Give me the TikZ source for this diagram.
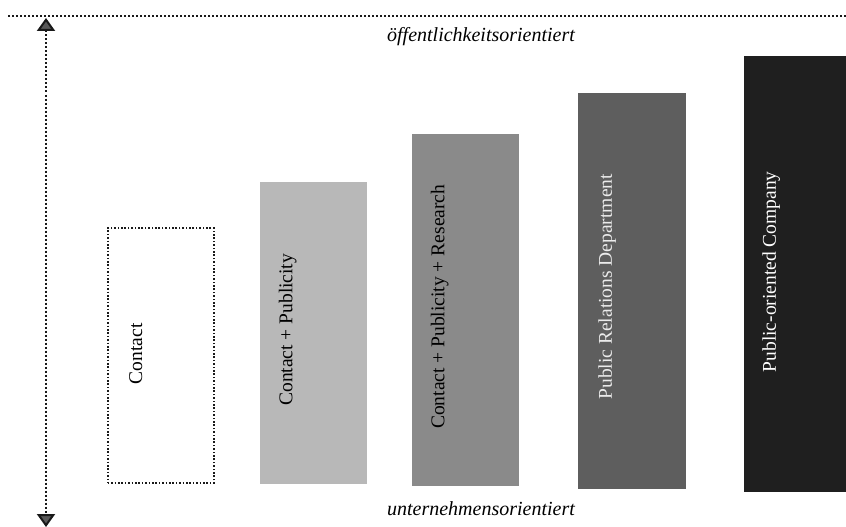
\documentclass[tikz,border=0pt]{standalone}
\usepackage{fontspec}
\setmainfont{Liberation Serif}
\usetikzlibrary{arrows.meta}

\begin{document}
\begin{tikzpicture}[
    % styles
    x=1pt, y=-1pt,
    font=\fontsize{19.5}{22}\selectfont,
    >={Triangle[width=18pt,length=13pt,fill=black!65]},
    dotline/.style={line width=2pt, dash pattern=on 2pt off 2pt, draw=black!90},
    stage/.style={rectangle, inner sep=0pt, anchor=south west},
    stage label/.style={rotate=90, inner sep=0pt},
    axis label/.style={font=\fontsize{20}{24}\selectfont\itshape, inner sep=1pt}
]
    \useasboundingbox (0,0) rectangle (846,527);

    % --- 1. top border and axis ---
    \coordinate (top-left) at (8,16);
    \coordinate (top-right) at (846,16);
    \coordinate (axis-top) at (46,18);
    \coordinate (axis-bottom) at (46,527);
    \draw[dotline] (top-left) -- (top-right);
    \draw[dotline, <->] (axis-top) -- (axis-bottom);

    \node[axis label] (public) at (481,37) {öffentlichkeitsorientiert};
    \node[axis label] (company) at (481,509) {unternehmensorientiert};

    % --- 2. stages ---
    \node[stage, dotline, line width=1.6pt, dash pattern=on 1.6pt off 1.8pt, fill=white, minimum width=106pt, minimum height=255pt] (S-1) at (107,484) {};
    \node[stage, fill=black!28, minimum width=107pt, minimum height=302pt] (S-2) at (260,484) {};
    \node[stage, fill=black!46, minimum width=107pt, minimum height=352pt] (S-3) at (412,486) {};
    \node[stage, fill=black!63, minimum width=108pt, minimum height=396pt] (S-4) at (578,489) {};
    \node[stage, fill=black!88, minimum width=102pt, minimum height=436pt] (S-5) at (744,492) {};

    % --- 3. labels ---
    \node[stage label] (L-1) at ([xshift=-25pt,yshift=2pt]S-1.center) {Contact};
    \node[stage label] (L-2) at ([xshift=-26pt,yshift=3pt]S-2.center) {Contact + Publicity};
    \node[stage label] (L-3) at ([xshift=-26pt,yshift=3pt]S-3.center) {Contact + Publicity + Research};
    \node[stage label, text=black!8] (L-4) at ([xshift=-25pt,yshift=4pt]S-4.center) {Public Relations Department};
    \node[stage label, text=white] (L-5) at ([xshift=-24pt,yshift=2pt]S-5.center) {Public-oriented Company};

\end{tikzpicture}
\end{document}
